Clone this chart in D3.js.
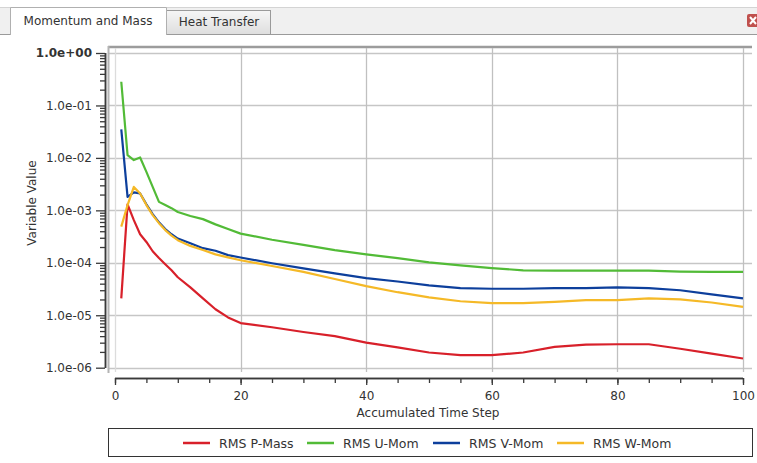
<!DOCTYPE html>
<html>
<head>
<meta charset="utf-8">
<script src="https://cdn.jsdelivr.net/npm/d3@7"></script>
<style>
  body { margin: 0; background: #fff; }
  text { font-family: "DejaVu Sans", sans-serif; fill: #333; }
</style>
</head>
<body>
<div id="chart"></div>
<script>
var width = 757;
var height = 463;

// data
var steps = [1, 2, 3, 4, 5, 6, 7, 8, 9, 10, 12, 14, 16, 18, 20, 25, 30, 35, 40, 45, 50, 55, 60, 65, 70, 75, 80, 85, 90, 95, 100];
var rmsPMass = [2.1e-5, 1.3e-3, 6.5e-4, 3.5e-4, 2.5e-4, 1.66e-4, 1.23e-4, 9.4e-5, 7.2e-5, 5.3e-5, 3.4e-5, 2.1e-5, 1.3e-5, 9.1e-6, 7.1e-6, 5.9e-6, 4.8e-6, 4.0e-6, 3.0e-6, 2.45e-6, 1.95e-6, 1.73e-6, 1.73e-6, 1.95e-6, 2.5e-6, 2.75e-6, 2.8e-6, 2.8e-6, 2.3e-6, 1.86e-6, 1.5e-6];
var rmsUMom = [0.283, 0.0113, 0.0091, 0.0102, 0.0054, 0.0028, 0.00145, 0.00126, 0.0011, 9.3e-4, 7.8e-4, 6.8e-4, 5.4e-4, 4.4e-4, 3.6e-4, 2.75e-4, 2.2e-4, 1.74e-4, 1.45e-4, 1.23e-4, 1.02e-4, 8.9e-5, 7.9e-5, 7.2e-5, 7.1e-5, 7.1e-5, 7.1e-5, 7.1e-5, 6.8e-5, 6.7e-5, 6.7e-5];
var rmsVMom = [0.035, 1.8e-3, 2.2e-3, 2.1e-3, 1.3e-3, 8.5e-4, 5.9e-4, 4.4e-4, 3.5e-4, 2.9e-4, 2.35e-4, 1.9e-4, 1.7e-4, 1.4e-4, 1.26e-4, 9.8e-5, 7.8e-5, 6.3e-5, 5.1e-5, 4.4e-5, 3.7e-5, 3.3e-5, 3.2e-5, 3.2e-5, 3.3e-5, 3.3e-5, 3.4e-5, 3.3e-5, 3.0e-5, 2.5e-5, 2.1e-5];
var rmsWMom = [4.9e-4, 1.26e-3, 2.8e-3, 2.1e-3, 1.26e-3, 8.1e-4, 5.7e-4, 4.2e-4, 3.3e-4, 2.7e-4, 2.1e-4, 1.75e-4, 1.45e-4, 1.27e-4, 1.12e-4, 8.7e-5, 6.7e-5, 4.9e-5, 3.6e-5, 2.75e-5, 2.2e-5, 1.85e-5, 1.7e-5, 1.7e-5, 1.8e-5, 1.95e-5, 1.95e-5, 2.1e-5, 2.0e-5, 1.75e-5, 1.45e-5];

var seriesNames = ["RMS P-Mass", "RMS U-Mom", "RMS V-Mom", "RMS W-Mom"];
var seriesValues = [rmsPMass, rmsUMom, rmsVMom, rmsWMom];
var seriesColors = ["#d8202a", "#52bb37", "#0d3f9c", "#f5b927"];

var xTicks = [0, 20, 40, 60, 80, 100];
var yTicks = [1e-6, 1e-5, 1e-4, 1e-3, 1e-2, 1e-1, 1];
var tabNames = ["Momentum and Mass", "Heat Transfer"];

var svg = d3.select("#chart").append("svg")
  .attr("width", width)
  .attr("height", height);

// ---- tab header
svg.append("rect").attr("x", 0).attr("y", 7).attr("width", width).attr("height", 27).attr("fill", "#f0f0f0");
svg.append("line").attr("x1", 0).attr("x2", width).attr("y1", 7.5).attr("y2", 7.5).attr("stroke", "#d4d4d4");
svg.append("line").attr("x1", 0).attr("x2", width).attr("y1", 34.5).attr("y2", 34.5).attr("stroke", "#9a9a9a");

var grad = svg.append("defs").append("linearGradient").attr("id", "tabgrad").attr("x1", 0).attr("x2", 0).attr("y1", 0).attr("y2", 1);
grad.append("stop").attr("offset", "0%").attr("stop-color", "#f6f6f6");
grad.append("stop").attr("offset", "100%").attr("stop-color", "#dedede");

svg.append("rect").attr("x", 166.5).attr("y", 10.5).attr("width", 104).attr("height", 24)
  .attr("fill", "url(#tabgrad)").attr("stroke", "#9a9a9a");
svg.append("path").attr("d", "M10.5,35 L10.5,7.5 L166.5,7.5 L166.5,35")
  .attr("fill", "#fff").attr("stroke", "#b0b0b0");
svg.append("rect").attr("x", 11).attr("y", 30).attr("width", 155).attr("height", 6).attr("fill", "#fff");

svg.append("text").attr("x", 88).attr("y", 25).attr("text-anchor", "middle").style("font-size", "12px").text(tabNames[0]);
svg.append("text").attr("x", 219).attr("y", 26).attr("text-anchor", "middle").style("font-size", "12px").text(tabNames[1]);

// close icon
svg.append("rect").attr("x", 747).attr("y", 14).attr("width", 13).attr("height", 13).attr("rx", 2).attr("fill", "#c0504d");
svg.append("path").attr("d", "M750,17 L756,24 M756,17 L750,24").attr("stroke", "#fff").attr("stroke-width", 2);

// ---- scales
var x = d3.scaleLinear().domain([0, 100]).range([115, 743]);
var y = d3.scaleLog().domain([1e-6, 1]).range([367.7, 53]);

function expFormat(v) {
  var e = Math.round(Math.log10(v));
  var s = e < 0 ? "-" : "+";
  var a = Math.abs(e);
  return "1.0e" + s + (a < 10 ? "0" + a : a);
}

// plot frame and grid
svg.append("line").attr("x1", 108).attr("x2", 752).attr("y1", 47).attr("y2", 47).attr("stroke", "#9c9c9c").attr("stroke-width", 2.5);

var grid = svg.append("g").attr("class", "grid");
grid.selectAll(".hgrid").data(yTicks).enter().append("line")
  .attr("x1", 108).attr("x2", 752)
  .attr("y1", function(d) { return Math.round(y(d)) + 0.5; })
  .attr("y2", function(d) { return Math.round(y(d)) + 0.5; })
  .attr("stroke", "#c6c6c6").attr("stroke-width", 1.3);
grid.selectAll(".vgrid").data(xTicks).enter().append("line")
  .attr("x1", function(d) { return Math.round(x(d)) + 0.5; })
  .attr("x2", function(d) { return Math.round(x(d)) + 0.5; })
  .attr("y1", 48).attr("y2", 372)
  .attr("stroke", function(d) { return d == 0 ? "#dcdcdc" : "#c0c0c0"; }).attr("stroke-width", 1.3);
svg.append("line").attr("x1", 108.5).attr("x2", 108.5).attr("y1", 46).attr("y2", 373).attr("stroke", "#b4b4b4").attr("stroke-width", 2);

// ---- y axis
var minorTicks = [];
for (var p = -6; p < 0; p++) {
  for (var k = 2; k <= 9; k++) minorTicks.push(k * Math.pow(10, p));
}
var yAxis = svg.append("g")
  .attr("transform", "translate(105,0)")
  .call(d3.axisLeft(y).tickValues(yTicks).tickSize(9).tickPadding(4).tickFormat(expFormat));
var yMinor = svg.append("g")
  .attr("transform", "translate(105,0)")
  .call(d3.axisLeft(y).tickValues(minorTicks).tickSize(5).tickFormat(""));
[yAxis, yMinor].forEach(function(g) {
  g.select(".domain").attr("stroke", "#3a3a3a").attr("stroke-width", 1.5).attr("d", "M0.5,53V368");
  g.selectAll(".tick line").attr("stroke", "#3a3a3a").attr("stroke-width", 1.3);
});
yAxis.selectAll(".tick text").style("font-size", "12px").style("font-family", "DejaVu Sans").attr("fill", "#333")
  .style("font-weight", function(d) { return d == 1 ? "bold" : "normal"; });

// ---- x axis
var xMinor = d3.range(0, 101, 5);
var xAxisMinor = svg.append("g")
  .attr("transform", "translate(0,378)")
  .call(d3.axisBottom(x).tickValues(xMinor).tickSize(5).tickFormat(""));
var xAxis = svg.append("g")
  .attr("transform", "translate(0,378)")
  .call(d3.axisBottom(x).tickValues(xTicks).tickSize(7).tickPadding(6));
[xAxis, xAxisMinor].forEach(function(g) {
  g.select(".domain").attr("stroke", "#3a3a3a").attr("stroke-width", 1.5).attr("d", "M115,0.5H743");
  g.selectAll(".tick line").attr("stroke", "#3a3a3a").attr("stroke-width", 1.3);
});
xAxis.selectAll(".tick text").style("font-size", "12px").style("font-family", "DejaVu Sans").attr("fill", "#333");

svg.append("text").attr("x", 428).attr("y", 417).attr("text-anchor", "middle").style("font-size", "12px").text("Accumulated Time Step");
svg.append("text").attr("transform", "translate(36,203) rotate(-90)").attr("text-anchor", "middle").style("font-size", "12px").text("Variable Value");

// ---- lines
var line = d3.line()
  .x(function(d) { return x(d.step); })
  .y(function(d) { return y(d.value); });

seriesValues.forEach(function(vals, i) {
  var pts = steps.map(function(s, j) { return { step: s, value: vals[j] }; });
  svg.append("path")
    .datum(pts)
    .attr("d", line)
    .attr("fill", "none")
    .attr("stroke", seriesColors[i])
    .attr("stroke-width", 2.2)
    .attr("stroke-linejoin", "round");
});

// ---- legend
svg.append("rect").attr("x", 108.5).attr("y", 428.5).attr("width", 644).attr("height", 28)
  .attr("fill", "#fff").attr("stroke", "#333");
var legendX = [183, 307, 433, 557];
var legend = svg.selectAll(".legend").data(seriesNames).enter().append("g")
  .attr("transform", function(d, i) { return "translate(" + legendX[i] + ",443)"; });
legend.append("line").attr("x1", 0).attr("x2", 27).attr("y1", 0).attr("y2", 0)
  .attr("stroke", function(d, i) { return seriesColors[i]; }).attr("stroke-width", 2.5);
legend.append("text").attr("x", 36).attr("y", 4.5).style("font-size", "12.5px").text(function(d) { return d; });
</script>
</body>
</html>
